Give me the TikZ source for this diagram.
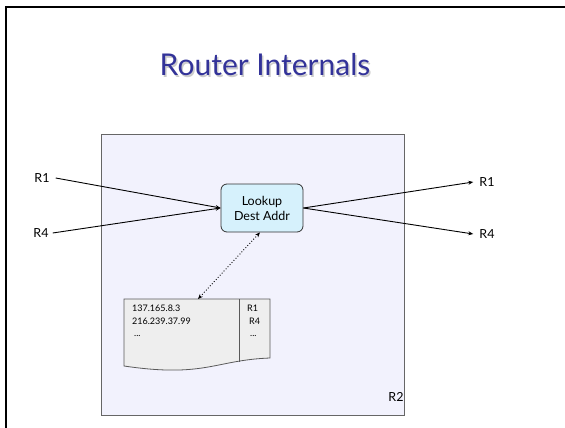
\documentclass[tikz,border=0pt]{standalone}
\usepackage{fontspec}
\setmainfont{Lato}
\usetikzlibrary{arrows.meta}
\definecolor{titleblue}{HTML}{333399}
\definecolor{routerfill}{HTML}{F2F2FD}
\definecolor{lookupfill}{HTML}{D6F1FC}
\definecolor{tablefill}{HTML}{EEEEEE}
\tikzset{
  lbl/.style={font=\fontsize{12.5}{14}\selectfont, inner sep=0pt},
  link/.style={line width=0.9pt, -{Stealth[length=5pt,width=4pt]}},
  tabtxt/.style={font=\fontsize{9}{10}\selectfont, inner sep=0pt, anchor=west},
}
\begin{document}
\begin{tikzpicture}[x=1pt,y=-1pt]
\useasboundingbox (0,0) rectangle (565,428);
% slide frame
\draw[line width=2pt] (6,428) -- (6,7) -- (565,7);
% title
\node[text=gray!40, font=\fontsize{30}{33}\selectfont] at (266.5,66.5) {Router Internals};
\node[text=titleblue, font=\fontsize{30}{33}\selectfont] (title) at (265,65) {Router Internals};
% router box
\draw[draw=black!60, line width=1pt, fill=routerfill] (101,134) rectangle (404,415);
\node[lbl] (r2) at (396,397) {R2};
% lookup
\node[draw=black!80, line width=0.8pt, fill=lookupfill, rounded corners=6pt,
      minimum width=82pt, minimum height=48pt, align=center,
      font=\fontsize{12.5}{15}\selectfont, inner sep=0pt] (lookup) at (262,208) {Lookup\\Dest Addr};
% table
\draw[draw=black!65, line width=0.8pt, fill=tablefill]
  (124,299) -- (270,299) -- (270,358)
  .. controls (215,360) and (205,378) .. (124,366) -- cycle;
\draw[draw=black!65, line width=0.8pt] (239,299) -- (239,362);
\node[tabtxt] (a1) at (132,308) {137.165.8.3};
\node[tabtxt] (a2) at (132,321) {216.239.37.99};
\node[tabtxt] (a3) at (134,336) {...};
\node[tabtxt] (b1) at (247,308) {R1};
\node[tabtxt] (b2) at (249,321) {R4};
\node[tabtxt] (b3) at (250,336) {...};
\coordinate (tabtop) at (198,299);
% side labels
\node[lbl] (inR1) at (42,178) {R1};
\node[lbl] (inR4) at (41,233) {R4};
\node[lbl] (outR1) at (487,182) {R1};
\node[lbl] (outR4) at (487,234) {R4};
% links
\draw[link] (inR1.east) ++(6,0) -- (lookup.west);
\draw[link] (inR4.east) ++(4,0) -- (lookup.west);
\draw[link] (lookup.east) -- ([xshift=-6pt]outR1.west);
\draw[link] (lookup.east) -- ([xshift=-6pt]outR4.west);
\draw[line width=0.9pt, dotted, {Stealth[length=5pt,width=4pt]}-{Stealth[length=5pt,width=4pt]}]
  (tabtop) -- ([xshift=-2pt]lookup.south);
\end{tikzpicture}
\end{document}
